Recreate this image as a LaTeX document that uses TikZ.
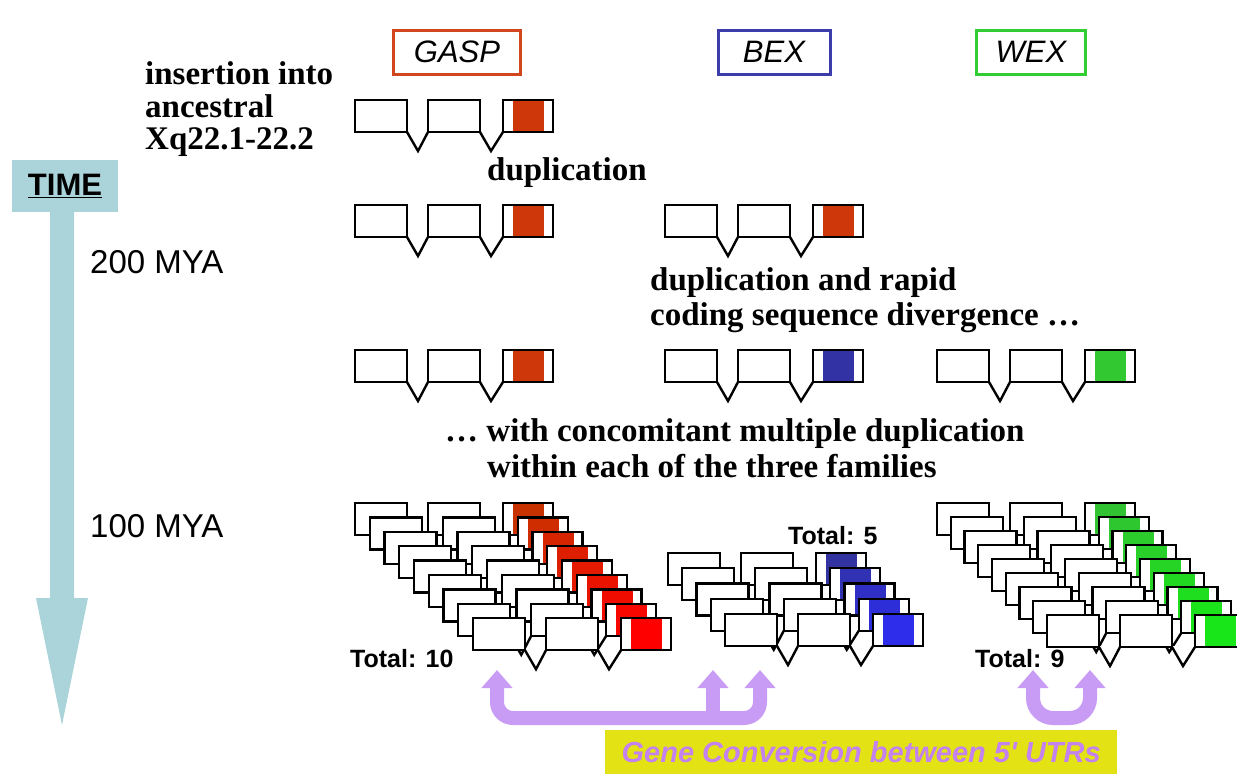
\documentclass[tikz,border=0pt]{standalone}
\usepackage{fontspec}
\setmainfont{Liberation Serif}
\newfontfamily\arial{Liberation Sans}
\usetikzlibrary{arrows.meta}
\definecolor{gaspc}{RGB}{205,55,10}
\definecolor{gaspback}{RGB}{200,50,0}
\definecolor{gaspfront}{RGB}{255,0,0}
\definecolor{bexc}{RGB}{50,50,165}
\definecolor{bexback}{RGB}{50,50,160}
\definecolor{bexfront}{RGB}{45,45,235}
\definecolor{wexc}{RGB}{50,200,50}
\definecolor{wexback}{RGB}{50,195,50}
\definecolor{wexfront}{RGB}{25,230,25}
\definecolor{gaspbox}{RGB}{210,70,30}
\definecolor{bexbox}{RGB}{60,60,170}
\definecolor{wexbox}{RGB}{50,205,50}
\definecolor{timeblue}{RGB}{170,212,218}
\definecolor{convpurple}{RGB}{200,155,245}
\definecolor{convtext}{RGB}{195,130,240}
\definecolor{ybox}{RGB}{226,226,20}
\tikzset{
  geneline/.style={line width=2.4, draw=black},
  gene/.pic={
    \fill[white] (52,31) -- (63,51) -- (73,31) -- cycle;
    \fill[white] (125,31) -- (136,51) -- (148,31) -- cycle;
    \draw[geneline, line join=miter] (52,32) -- (63,51) -- (73,32);
    \draw[geneline, line join=miter] (125,32) -- (136,51) -- (148,32);
    \filldraw[geneline, fill=white] (0,0) rectangle (52,32);
    \filldraw[geneline, fill=white] (73,0) rectangle (125,32);
    \filldraw[geneline, fill=white] (148,0) rectangle (198,32);
    \fill[#1] (158,1.2) rectangle (189,30.8);
  },
  serifb/.style={font=\bfseries\fontsize{33}{33}\selectfont, inner sep=0, anchor=base west},
  sanslab/.style={font=\arial\fontsize{33}{33}\selectfont, inner sep=0, anchor=base west},
  totallab/.style={font=\arial\bfseries\fontsize{25}{25}\selectfont, inner sep=0, anchor=base west},
  fambox/.style={line width=3, minimum width=127, minimum height=44, inner sep=0,
    font=\arial\itshape\fontsize{31}{31}\selectfont},
  conv/.style={line width=14, draw=convpurple, line cap=butt,
    -{Triangle[width=30,length=18]}},
  convboth/.style={line width=14, draw=convpurple, line cap=butt,
    {Triangle[width=30,length=18]}-{Triangle[width=30,length=18]}},
}
\begin{document}
\begin{tikzpicture}[x=1pt,y=-1pt]
\useasboundingbox (0,0) rectangle (1237,774);

% family labels
\node[fambox, draw=gaspbox] (gasp) at (457,52) {GASP};
\node[fambox, draw=bexbox, minimum width=112] (bex) at (774,52) {BEX};
\node[fambox, draw=wexbox, minimum width=109] (wex) at (1031,52) {WEX};

% time arrow
\node[fill=timeblue, minimum width=106, minimum height=52, inner sep=0,
  font=\arial\bfseries\fontsize{31}{31}\selectfont] (time) at (65,186) {\underline{TIME}};
\fill[timeblue] (50,211) -- (50,598) -- (36,598) -- (62,725) -- (88,598) -- (74,598) -- (74,211) -- cycle;
\node[sanslab] (t200) at (90,273) {200 MYA};
\node[sanslab] (t100) at (90,537) {100 MYA};

% texts
\node[serifb] (ins1) at (145,84) {insertion into};
\node[serifb] (ins2) at (145,117) {ancestral};
\node[serifb] (ins3) at (145,149) {Xq22.1-22.2};
\node[serifb] (dup1) at (487,180) {duplication};
\node[serifb] (dup2a) at (650,290) {duplication and rapid};
\node[serifb] (dup2b) at (650,325) {coding sequence divergence …};
\node[serifb] (dup3a) at (445,441) {… with concomitant multiple duplication};
\node[serifb] (dup3b) at (487,477) {within each of the three families};

% row 1
\pic at (355,100) {gene=gaspc};
% row 2
\pic at (355,205) {gene=gaspc};
\pic at (665,205) {gene=gaspc};
% row 3
\pic at (355,350) {gene=gaspc};
\pic at (665,350) {gene=bexc};
\pic at (937,350) {gene=wexc};

% row 4 stacks
\foreach \i in {0,...,8}{
  \pgfmathsetmacro\p{100*\i/8}
  \pic at ({355+14.75*\i},{503+14.4*\i}) {gene=gaspfront!\p!gaspback};
}
\foreach \i in {0,...,4}{
  \pgfmathsetmacro\p{100*\i/4}
  \pic at ({668+14.25*\i},{553+15.25*\i}) {gene=bexfront!\p!bexback};
}
\foreach \i in {0,...,8}{
  \pgfmathsetmacro\p{100*\i/8}
  \pic at ({937+13.75*\i},{503+14*\i}) {gene=wexfront!\p!wexback};
}
\node[totallab] (tot10) at (350,667) {Total: 10};
\node[totallab] (tot5) at (788,544) {Total: 5};
\node[totallab] (tot9) at (975,667) {Total: 9};

% gene conversion arrows
\coordinate (c1) at (497,670);
\coordinate (c2) at (713,670);
\coordinate (c3) at (760,670);
\coordinate (c4) at (1033,670);
\coordinate (c5) at (1090,670);
\draw[convboth, rounded corners=16] (c1) -- (c1 |- 0,718) -- (c3 |- 0,718) -- (c3);
\draw[conv, rounded corners=10] (c2 |- 0,718) -- (c2);
\draw[convboth, rounded corners=20] (c4) -- (c4 |- 0,718) -- (c5 |- 0,718) -- (c5);

\node[fill=ybox, minimum width=512, minimum height=44, inner sep=0, anchor=north west,
  text=convtext, font=\arial\bfseries\itshape\fontsize{29}{29}\selectfont] (gc) at (605,730)
  {Gene Conversion between 5' UTRs};
\end{tikzpicture}
\end{document}
